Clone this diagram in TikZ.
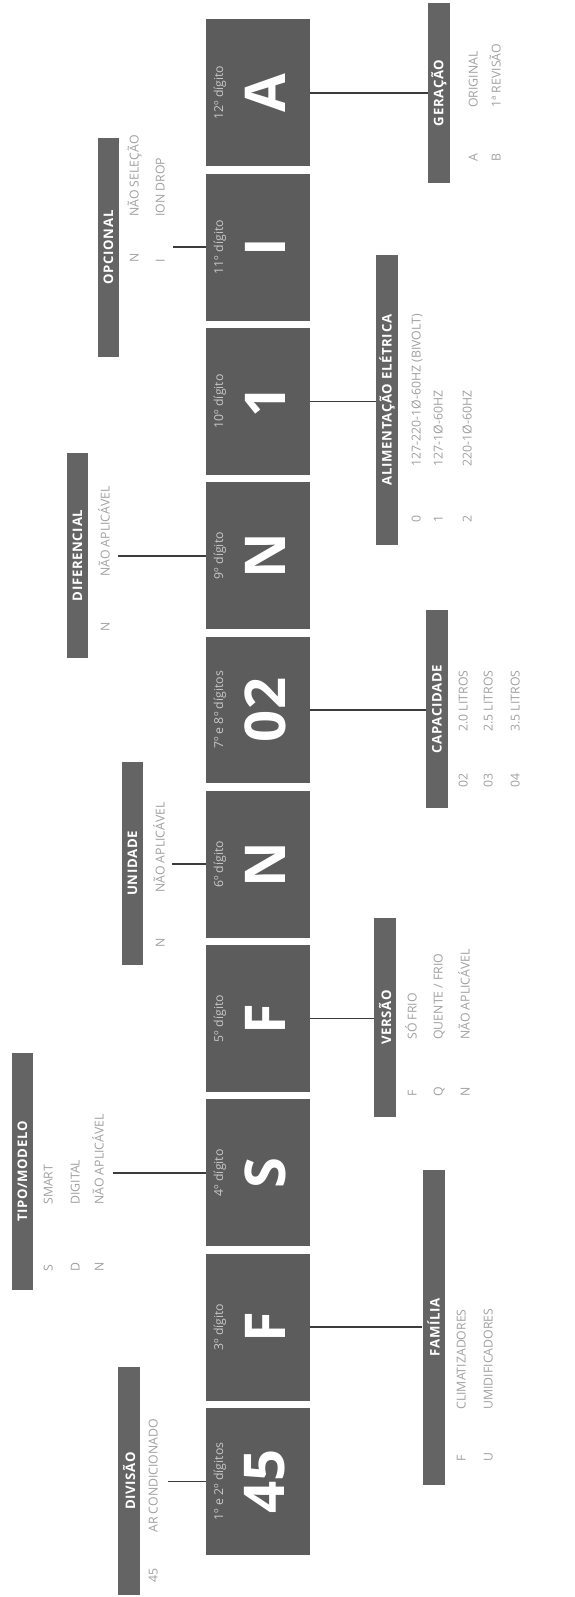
\documentclass[tikz,border=0pt]{standalone}
\usepackage{fontspec}
\setmainfont{Open Sans}
\newfontfamily\barfont[LetterSpace=5]{Open Sans}
\usetikzlibrary{positioning}

\definecolor{boxgray}{RGB}{92,92,92}
\definecolor{bargray}{RGB}{100,100,100}
\definecolor{labgray}{RGB}{200,200,200}
\definecolor{optgray}{RGB}{160,160,160}
\definecolor{linegray}{RGB}{60,60,60}

\begin{document}
\begin{tikzpicture}[
    rotate=90, transform shape,
    x=0.02cm, y=0.02cm,
    digitbox/.style={rectangle, fill=boxgray, minimum width=2.94cm, minimum height=2.08cm, inner sep=0pt},
    poslabel/.style={font=\fontsize{7}{8}\selectfont, text=labgray, inner sep=0pt},
    bigchar/.style={font=\fontsize{32}{34}\selectfont\bfseries, text=white, inner sep=0pt},
    headbar/.style={rectangle, fill=bargray, minimum height=0.44cm, inner sep=0pt, text=white, font=\barfont\bfseries\fontsize{7.5}{8}\selectfont},
    opt/.style={font=\fontsize{7}{8}\selectfont, text=optgray, inner sep=0pt, anchor=mid west},
    link/.style={draw=linegray, line width=1pt}
]
    \useasboundingbox (0,0) rectangle (1597,-575);

    % the twelve digits of the code
    \foreach \i/\ch/\lab in {1/45/1º e 2º dígitos, 2/F/3º dígito, 3/S/4º dígito, 4/F/5º dígito, 5/N/6º dígito,
                             6/02/7º e 8º dígitos, 7/N/9º dígito, 8/1/10º dígito, 9/I/11º dígito, 10/A/12º dígito}{
        \node[digitbox] (b\i) at ({115.5+(\i-1)*154.3},-258) {};
        \node[poslabel] (p\i) at ({115.5+(\i-1)*154.3},-220) {\lab};
        \node[bigchar] (c\i) at ({115.5+(\i-1)*154.3},-265) {\ch};
    }

    % headers above
    \node[headbar, minimum width=4.56cm] (divisao) at (116,-129) {DIVISÃO};
    \node[headbar, minimum width=4.74cm] (tipo) at (425.5,-22.5) {TIPO/MODELO};
    \node[headbar, minimum width=4.06cm] (unidade) at (733.5,-132.5) {UNIDADE};
    \node[headbar, minimum width=4.10cm] (diferencial) at (1041.5,-77.5) {DIFERENCIAL};
    \node[headbar, minimum width=4.38cm] (opcional) at (1349.5,-108.5) {OPCIONAL};

    % headers below
    \node[headbar, minimum width=6.30cm] (familia) at (269.5,-433.5) {FAMÍLIA};
    \node[headbar, minimum width=3.98cm] (versao) at (579.5,-385) {VERSÃO};
    \node[headbar, minimum width=3.96cm] (capacidade) at (888,-437) {CAPACIDADE};
    \node[headbar, minimum width=5.80cm] (alimentacao) at (1197,-387) {ALIMENTAÇÃO ELÉTRICA};
    \node[headbar, minimum width=3.60cm] (geracao) at (1504,-439) {GERAÇÃO};

    % options
    \node[opt] (divc1) at (14,-153) {45};
    \node[opt] (divt1) at (64,-153) {AR CONDICIONADO};
    \foreach \y/\c/\t [count=\k] in {-48/S/SMART, -75/D/DIGITAL, -99/N/NÃO APLICÁVEL}{
        \node[opt] (tipc\k) at (325,\y) {\c};
        \node[opt] (tipt\k) at (392,\y) {\t};
    }
    \node[opt] (unic1) at (649,-160) {N};
    \node[opt] (unit1) at (704,-160) {NÃO APLICÁVEL};
    \node[opt] (difc1) at (965,-105) {N};
    \node[opt] (dift1) at (1020,-105) {NÃO APLICÁVEL};
    \foreach \y/\c/\t [count=\k] in {-134/N/NÃO SELEÇÃO, -160/I/ION DROP}{
        \node[opt] (opcc\k) at (1334,\y) {\c};
        \node[opt] (opct\k) at (1380,\y) {\t};
    }
    \foreach \y/\c/\t [count=\k] in {-461/F/CLIMATIZADORES, -488/U/UMIDIFICADORES}{
        \node[opt] (famc\k) at (135,\y) {\c};
        \node[opt] (famt\k) at (187,\y) {\t};
    }
    \foreach \y/\c/\t [count=\k] in {-412/F/SÓ FRIO, -438/Q/{QUENTE / FRIO}, -465/N/NÃO APLICÁVEL}{
        \node[opt] (verc\k) at (500,\y) {\c};
        \node[opt] (vert\k) at (557,\y) {\t};
    }
    \foreach \y/\c/\t [count=\k] in {-463/02/2.0 LITROS, -488/03/2.5 LITROS, -515/04/3.5 LITROS}{
        \node[opt] (capc\k) at (809,\y) {\c};
        \node[opt] (capt\k) at (865,\y) {\t};
    }
    \foreach \y/\c/\t [count=\k] in {-416/0/127-220-1Ø-60HZ (BIVOLT), -438/1/127-1Ø-60HZ, -467/2/220-1Ø-60HZ}{
        \node[opt] (alic\k) at (1074,\y) {\c};
        \node[opt] (alit\k) at (1130,\y) {\t};
    }
    \foreach \y/\c/\t [count=\k] in {-473/A/ORIGINAL, -496/B/1ª REVISÃO}{
        \node[opt] (gerc\k) at (1435,\y) {\c};
        \node[opt] (gert\k) at (1489,\y) {\t};
    }

    % connectors
    \coordinate (divend) at (b1.north |- 0,-168);
    \coordinate (tipend) at (b3.north |- 0,-113);
    \coordinate (uniend) at (b5.north |- 0,-172);
    \coordinate (difend) at (b7.north |- 0,-118);
    \coordinate (opcend) at (b9.north |- 0,-173);
    \draw[link] (b1.north) -- (divend);
    \draw[link] (b3.north) -- (tipend);
    \draw[link] (b5.north) -- (uniend);
    \draw[link] (b7.north) -- (difend);
    \draw[link] (b9.north) -- (opcend);
    \draw[link] (b2.south) -- (b2.south |- familia.north);
    \draw[link] (b4.south) -- (b4.south |- versao.north);
    \draw[link] (b6.south) -- (b6.south |- capacidade.north);
    \draw[link] (b8.south) -- (b8.south |- alimentacao.north);
    \draw[link] (b10.south) -- (b10.south |- geracao.north);
\end{tikzpicture}
\end{document}
